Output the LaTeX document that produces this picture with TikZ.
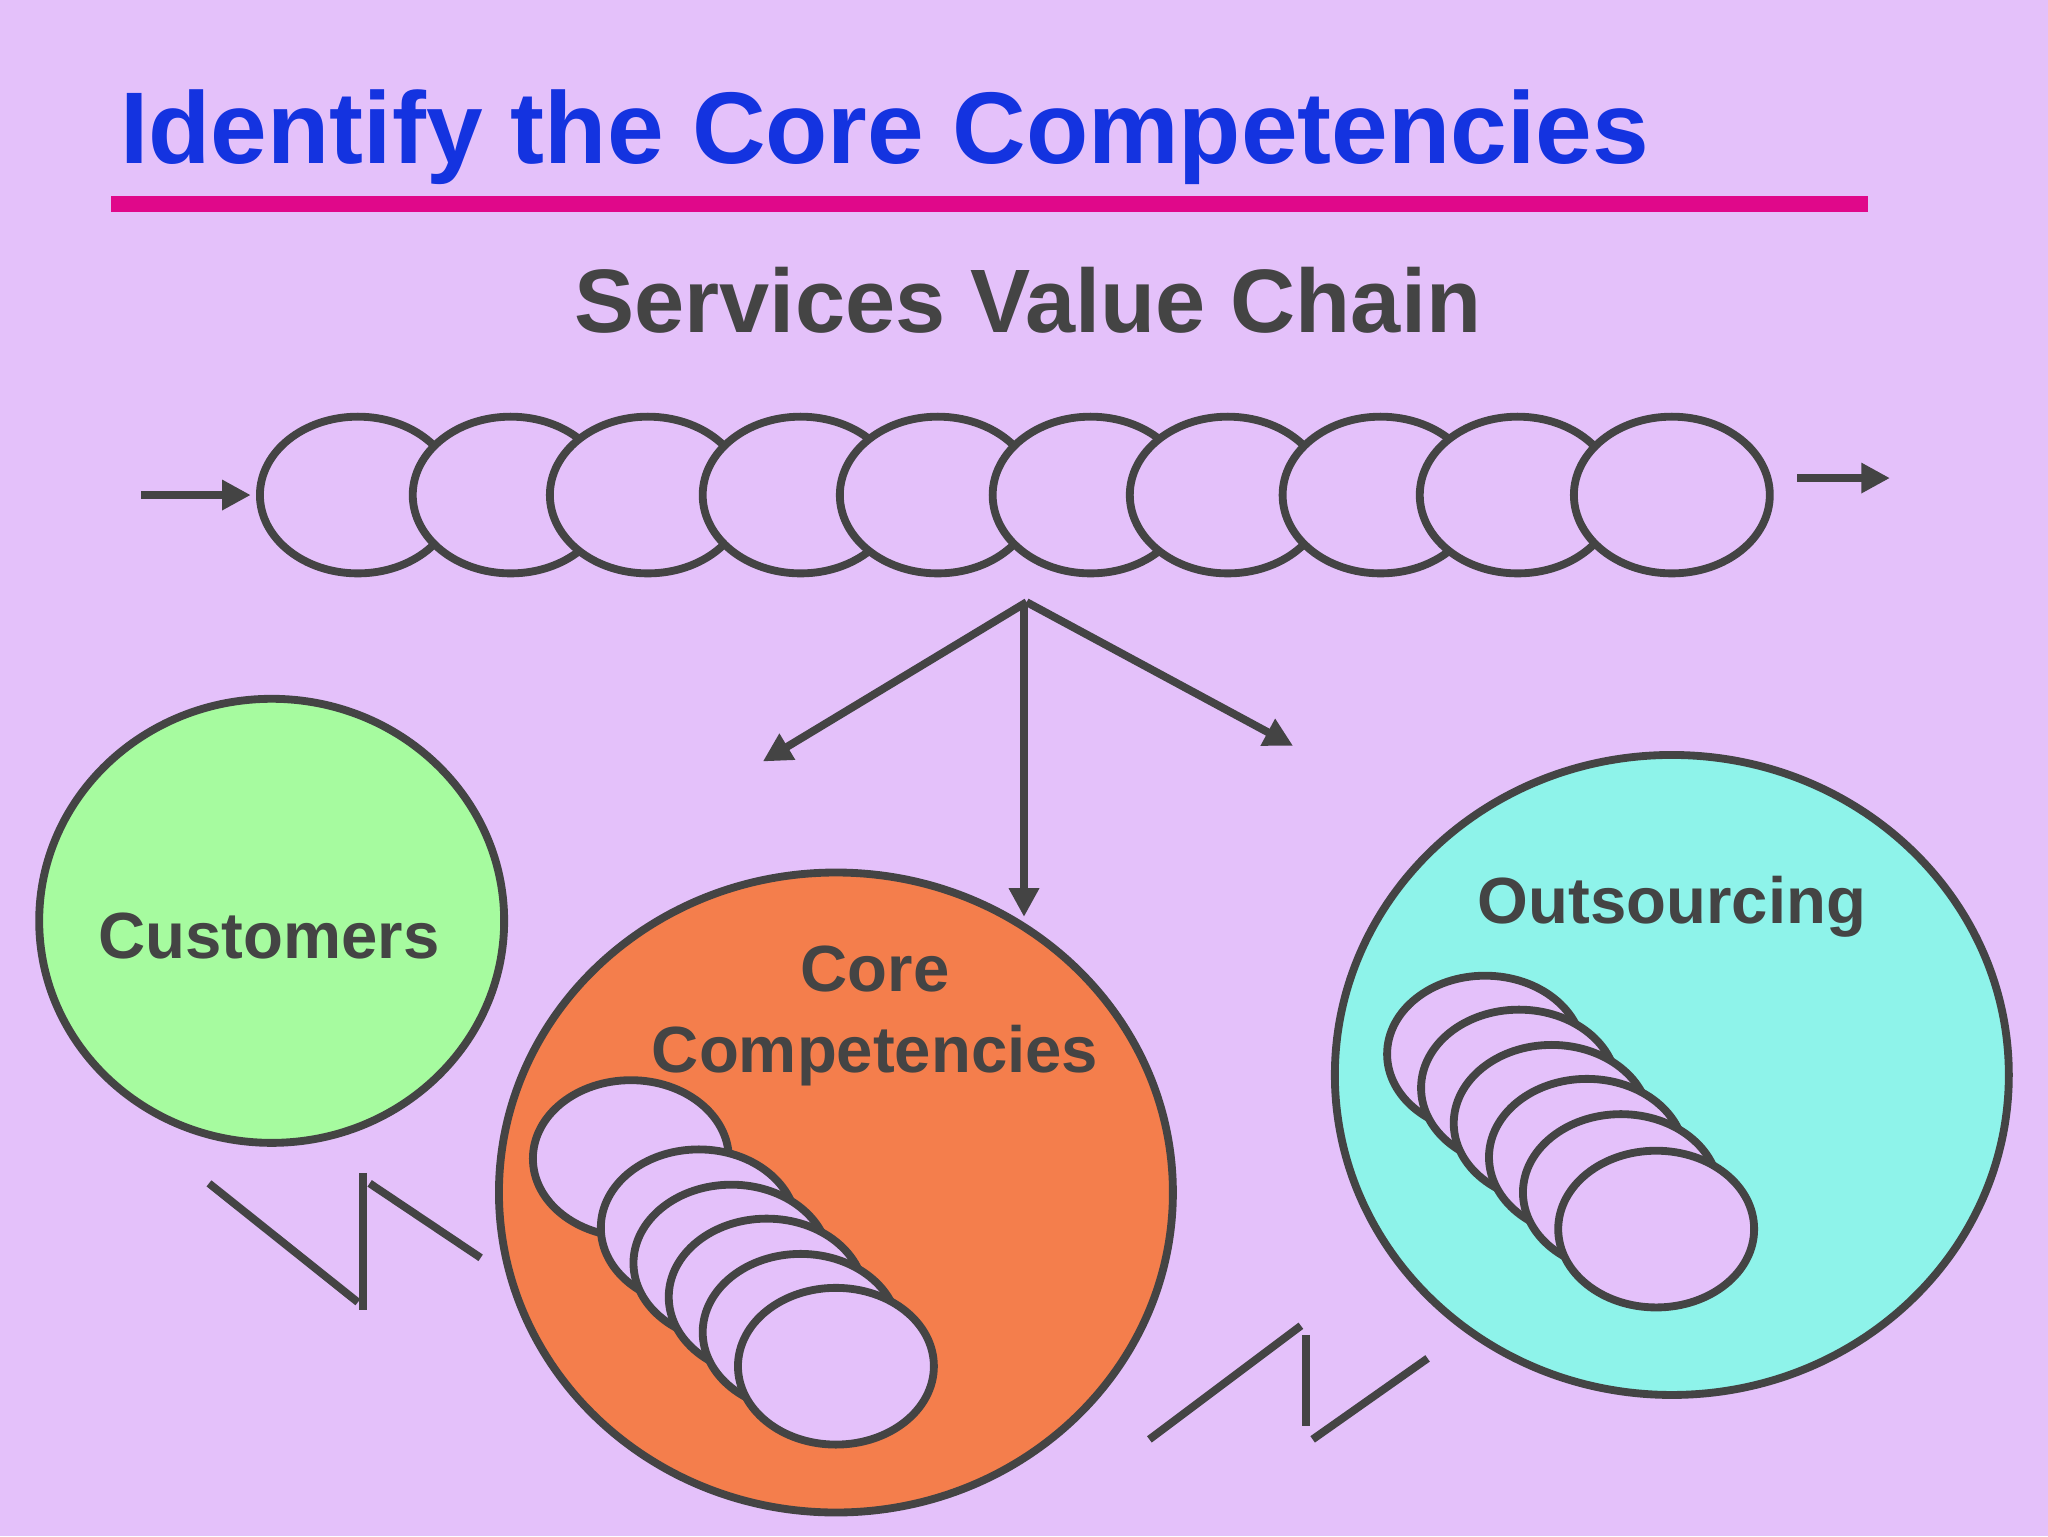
\documentclass[tikz,border=0pt]{standalone}
\usepackage{fontspec}
\setmainfont{Liberation Sans}
\usetikzlibrary{arrows.meta}
\definecolor{bg}{HTML}{E4C1FA}
\definecolor{ln}{HTML}{444444}
\definecolor{ttl}{HTML}{1433E0}
\definecolor{mag}{HTML}{E0088A}
\definecolor{grn}{HTML}{A6FB9F}
\definecolor{org}{HTML}{F47E4C}
\definecolor{cyn}{HTML}{8EF3EA}
\begin{document}
\begin{tikzpicture}[x=1pt,y=-1pt,
  lk/.style={draw=ln,line width=6pt,fill=bg},
  con/.style={draw=ln,line width=6pt},
  arr/.style={con,-{Triangle[length=22pt,width=22pt]}},
  lbl/.style={text=ln,font=\bfseries\fontsize{50}{60}\selectfont,align=center}]
\fill[bg] (0,0) rectangle (1568,1176);
\useasboundingbox (0,0) rectangle (1568,1176);
\node[anchor=base west,text=ttl,font=\bfseries\fontsize{78}{90}\selectfont,inner sep=0] (title) at (92,125) {Identify the Core Competencies};
\draw[mag,line width=12pt] (85,156) -- (1430,156);
\node[text=ln,font=\bfseries\fontsize{69}{80}\selectfont] (svc) at (787,230) {Services Value Chain};
\foreach \x [count=\i] in {274,391,496,613,718,835,940,1057,1162,1280}
  \draw[lk] (\x,379) ellipse [x radius=75,y radius=60] coordinate (c\i);
\coordinate (la) at (108,379); \coordinate (lb) at (192,379);
\draw[arr] (la) -- (lb);
\coordinate (ra) at (1376,366); \coordinate (rb) at (1447,366);
\draw[arr] (ra) -- (rb);
\coordinate (f) at (786,461);
\coordinate (fl) at (584,583); \coordinate (fm) at (784,702); \coordinate (fr) at (990,571);
\draw[arr] (f) -- (fl);
\draw[arr] ([xshift=-2pt]f) -- (fm);
\draw[arr] (f) -- (fr);
\draw[con,fill=grn] (208,705) ellipse [x radius=178,y radius=170];
\node[lbl] (cust) at (206,717) {Customers};
\draw[con,fill=org] (640,913) ellipse [x radius=258,y radius=245];
\node[lbl] (core) at (670,778) {Core\\[2pt]Competencies};
\draw[con,fill=cyn] (1280,823) ellipse [x radius=258,y radius=245];
\node[lbl] (outs) at (1280,694) {Outsourcing};
\foreach \x/\y in {483/887,535/940,560/967,587/993,613/1020,640/1046}
  \draw[lk] (\x,\y) ellipse [x radius=75,y radius=60];
\foreach \x/\y in {1137/807,1163/833,1188/860,1215/886,1241/913,1268/941}
  \draw[lk] (\x,\y) ellipse [x radius=75,y radius=60];
\coordinate (z1) at (160,906); \coordinate (z2) at (274,997); \coordinate (z3) at (278,898); \coordinate (z4) at (283,906); \coordinate (z5) at (368,963); \coordinate (z6) at (278,1003);
\draw[con] (z1) -- (z2); \draw[con] (z3) -- (z6); \draw[con] (z4) -- (z5);
\coordinate (w1) at (880,1102); \coordinate (w2) at (996,1015); \coordinate (w3) at (1000,1022); \coordinate (w4) at (1000,1092); \coordinate (w5) at (1005,1102); \coordinate (w6) at (1093,1040);
\draw[con] (w1) -- (w2); \draw[con] (w3) -- (w4); \draw[con] (w5) -- (w6);
\end{tikzpicture}
\end{document}
